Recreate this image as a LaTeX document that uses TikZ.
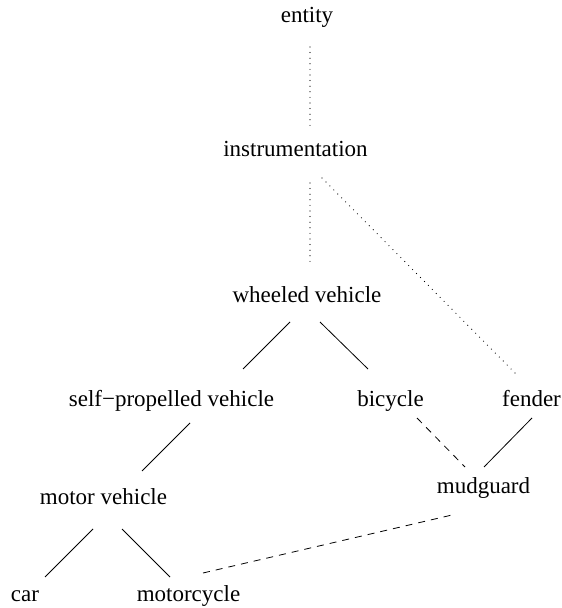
\documentclass[tikz,border=0pt]{standalone}
\usepackage{fontspec}
\setmainfont{Liberation Serif}

\tikzset{
	term/.style={anchor=base, inner sep=0pt, font=\fontsize{23}{27}\selectfont},
	hypo/.style={line width=0.8pt},
	isa/.style={line width=1.2pt, line cap=round, dash pattern=on 0pt off 5.6pt},
	part/.style={line width=0.8pt, dash pattern=on 7pt off 6pt},
}

\begin{document}
\begin{tikzpicture}[x=1pt, y=1pt]
		\useasboundingbox (0,0) rectangle (562,608);

		\node[term] (entity) at (307,585) {entity};
		\node[term] (instr) at (295.5,451) {instrumentation};
		\node[term] (wv) at (307,305) {wheeled vehicle};
		\node[term] (sp) at (171.5,201) {self−propelled vehicle};
		\node[term] (bic) at (390.5,201) {bicycle};
		\node[term] (fender) at (531.5,201) {fender};
		\node[term] (mud) at (483.5,114) {mudguard};
		\node[term] (mv) at (103.5,103) {motor vehicle};
		\node[term] (car) at (25,6) {car};
		\node[term] (moto) at (188.5,6) {motorcycle};

		\draw[isa] ([shift={(3,-24)}]entity.base) -- ([shift={(14.5,30)}]instr.base);
		\draw[isa] ([shift={(14.5,-26)}]instr.base) -- ([shift={(3,41)}]wv.base);
		\draw[isa] ([shift={(26.5,-21)}]instr.base) -- ([shift={(-13.5,31)}]fender.base);

		\draw[hypo] ([shift={(-17,-19)}]wv.base) -- ([shift={(71.5,38)}]sp.base);
		\draw[hypo] ([shift={(13,-19)}]wv.base) -- ([shift={(-22.5,38)}]bic.base);
		\draw[hypo] ([shift={(18.5,-16)}]sp.base) -- ([shift={(38.5,34)}]mv.base);
		\draw[hypo] ([shift={(-10.5,-24)}]mv.base) -- ([shift={(20,25)}]car.base);
		\draw[hypo] ([shift={(18.5,-24)}]mv.base) -- ([shift={(-18.5,25)}]moto.base);
		\draw[hypo] ([shift={(0.5,-11)}]fender.base) -- ([shift={(0.5,27)}]mud.base);

		\draw[part] ([shift={(14.5,29)}]moto.base) -- ([shift={(-31.5,-21)}]mud.base);
		\draw[part] ([shift={(26.5,-11)}]bic.base) -- ([shift={(-18.5,27)}]mud.base);
	\end{tikzpicture}
\end{document}
